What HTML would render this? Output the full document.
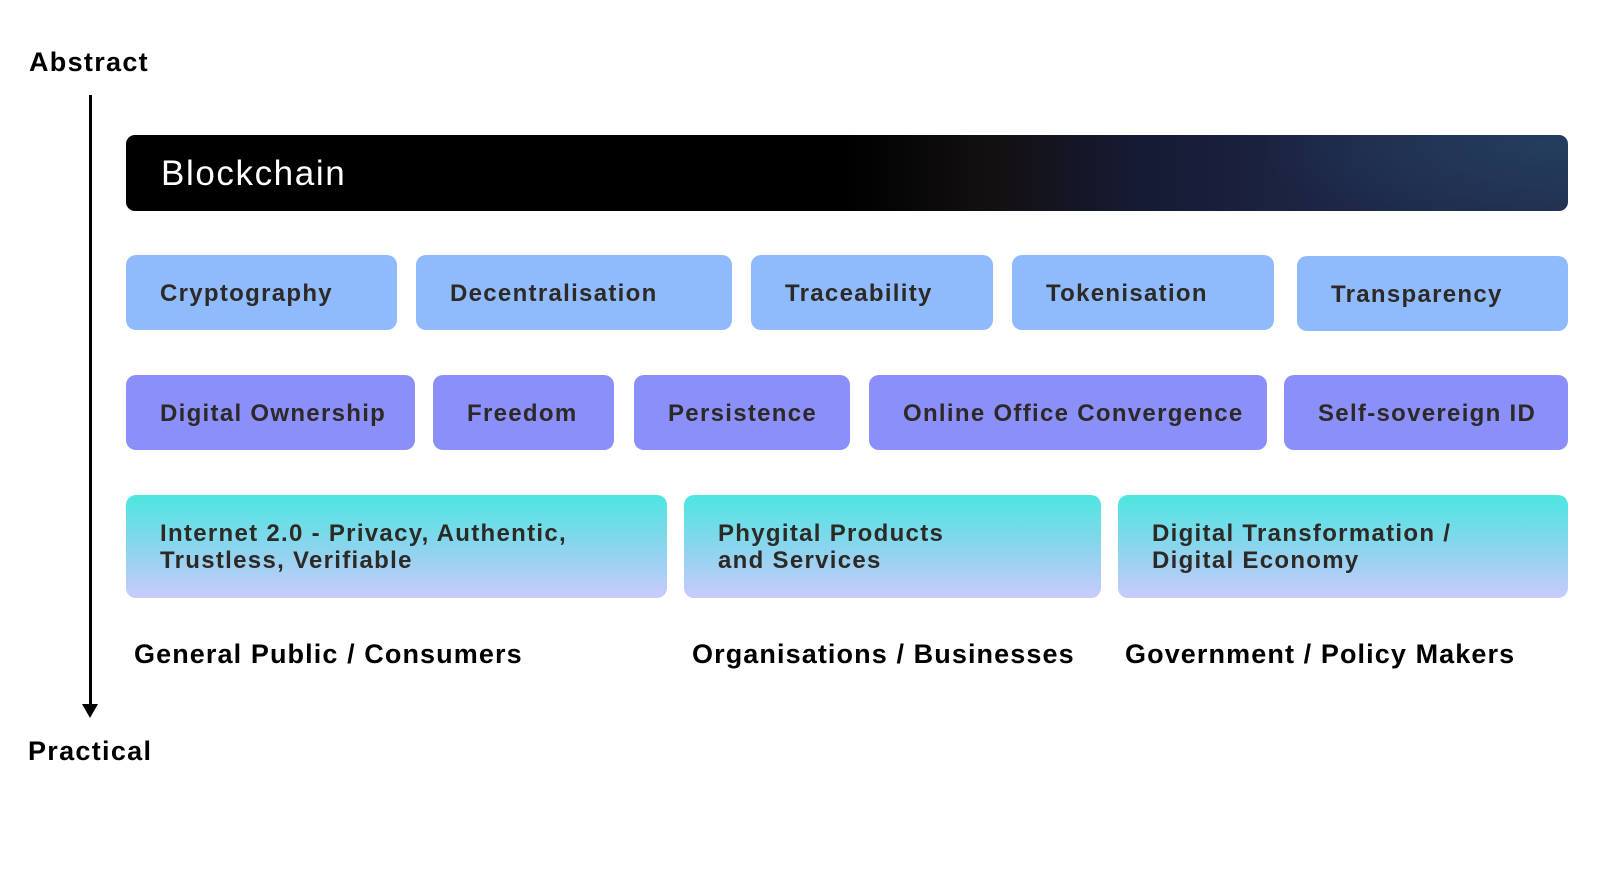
<!DOCTYPE html>
<html><head><meta charset="utf-8"><style>
body{margin:0;width:1600px;height:869px;background:#fff;position:relative;overflow:hidden;font-family:"Liberation Sans",sans-serif}
.a{position:absolute}
.b{position:absolute;border-radius:10px;box-sizing:border-box;padding-left:34px;display:flex;align-items:center;font-weight:bold;font-size:24px;color:#2d2926;letter-spacing:1.3px}
.r1{background:#8fbbfd;top:255px;height:75px;padding-top:2px}
.r2{background:#8b8ff9;top:375px;height:75px;padding-top:2px}
.r3{background:linear-gradient(#4ce6df,#96d2f0 60%,#c9cbfd);top:495px;height:103px;line-height:27px;align-items:flex-start;padding-top:25px}
.l{position:absolute;top:639px;font-weight:bold;font-size:27px;color:#000;letter-spacing:1.1px}
</style></head><body>
<div class="a" style="left:29px;top:47px;font-weight:bold;font-size:27px;letter-spacing:1.3px">Abstract</div>
<div class="a" style="left:28px;top:736px;font-weight:bold;font-size:27px;letter-spacing:1.3px">Practical</div>
<div class="a" style="left:89px;top:95px;width:3px;height:610px;background:#000"></div>
<div class="a" style="left:82px;top:704px;width:0;height:0;border-left:8px solid transparent;border-right:8px solid transparent;border-top:14px solid #000"></div>
<div class="a" style="left:126px;top:135px;width:1442px;height:76px;border-radius:9px;background:radial-gradient(ellipse 300px 90px at 1430px 10px,#243d5e,transparent),linear-gradient(90deg,#000 0%,#000 50%,#131011 60%,#161a33 70%,#1d2747 85%,#212e4e 100%);color:#fff;font-size:35px;display:flex;align-items:center;padding-left:35px;padding-top:2px;box-sizing:border-box;letter-spacing:1.6px">Blockchain</div>
<div class="b r1" style="left:126px;width:271px">Cryptography</div>
<div class="b r1" style="left:416px;width:316px">Decentralisation</div>
<div class="b r1" style="left:751px;width:242px">Traceability</div>
<div class="b r1" style="left:1012px;width:262px">Tokenisation</div>
<div class="b r1" style="left:1297px;width:271px;top:256px">Transparency</div>
<div class="b r2" style="left:126px;width:289px">Digital Ownership</div>
<div class="b r2" style="left:433px;width:181px">Freedom</div>
<div class="b r2" style="left:634px;width:216px">Persistence</div>
<div class="b r2" style="left:869px;width:398px">Online Office Convergence</div>
<div class="b r2" style="left:1284px;width:284px">Self-sovereign ID</div>
<div class="b r3" style="left:126px;width:541px">Internet 2.0 - Privacy, Authentic,<br>Trustless, Verifiable</div>
<div class="b r3" style="left:684px;width:417px">Phygital Products<br>and Services</div>
<div class="b r3" style="left:1118px;width:450px">Digital Transformation /<br>Digital Economy</div>
<div class="l" style="left:134px">General Public / Consumers</div>
<div class="l" style="left:692px">Organisations / Businesses</div>
<div class="l" style="left:1125px">Government / Policy Makers</div>
</body></html>
